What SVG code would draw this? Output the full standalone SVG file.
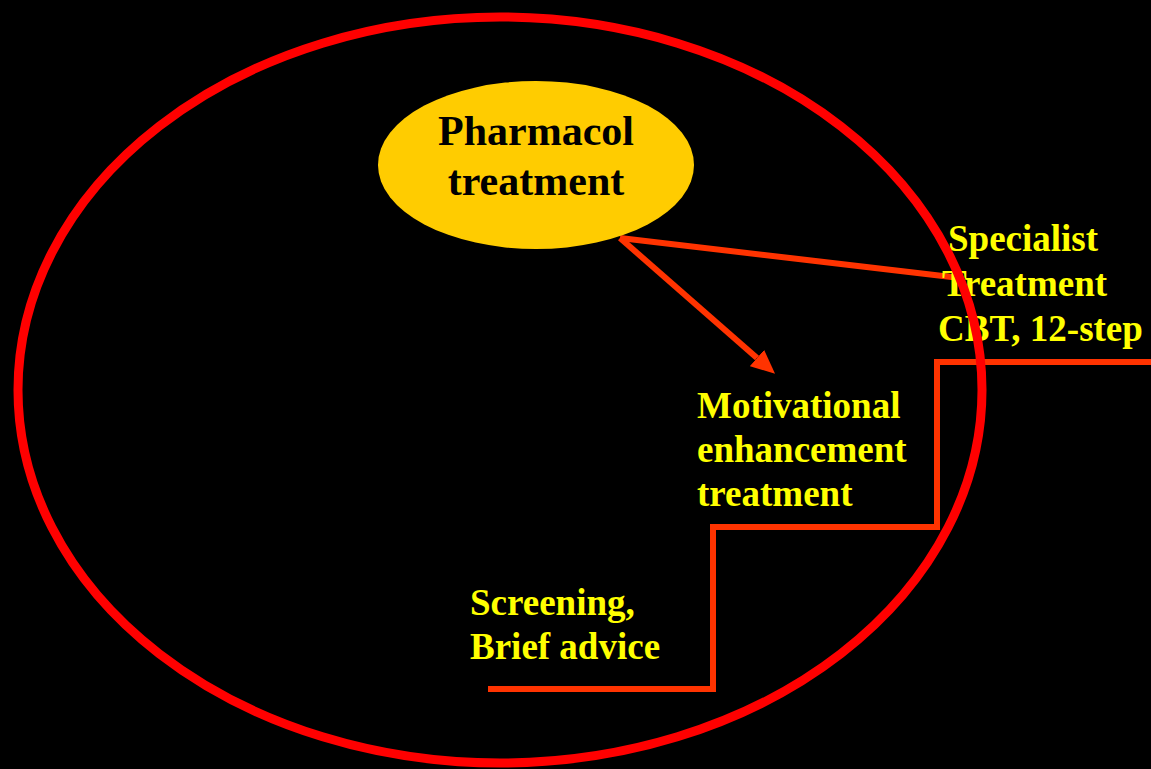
<svg xmlns="http://www.w3.org/2000/svg" width="1151" height="769" viewBox="0 0 1151 769">
<defs>
<style>
.lbl{font-family:"Liberation Serif","Times New Roman",serif;font-weight:bold;font-size:37px;fill:#ffff00}
.ctr{font-family:"Liberation Serif","Times New Roman",serif;font-weight:bold;font-size:42px;fill:#000000;text-anchor:middle}
.conn{fill:none;stroke:#ff3300;stroke-width:6}
</style>
<marker id="ah" markerWidth="4" markerHeight="3.6" refX="0" refY="1.8" orient="auto" markerUnits="strokeWidth">
<path d="M0,0 L4,1.8 L0,3.6 Z" fill="#ff3300"/>
</marker>
</defs>
<rect width="1151" height="769" fill="#000000"/>
<g id="connectors">
<line class="conn" x1="620" y1="238" x2="960" y2="278"/>
<line class="conn" x1="620" y1="238" x2="757" y2="358" marker-end="url(#ah)"/>
<polyline class="conn" stroke-width="7" points="488,689 713,689 713,527 937,527 937,362 1151,362"/>
</g>
<g id="pharmacol">
<ellipse cx="536" cy="165" rx="158" ry="84" fill="#ffcc00"/>
<text class="ctr" x="536" y="145">Pharmacol</text>
<text class="ctr" x="536" y="195">treatment</text>
</g>
<g id="specialist">
<text class="lbl" x="948" y="251">Specialist</text>
<text class="lbl" x="942" y="296">Treatment</text>
<text class="lbl" x="938" y="341">CBT, 12-step</text>
</g>
<g id="motivational">
<text class="lbl" x="697" y="418">Motivational</text>
<text class="lbl" x="697" y="462">enhancement</text>
<text class="lbl" x="697" y="506">treatment</text>
</g>
<g id="screening">
<text class="lbl" x="470" y="615">Screening,</text>
<text class="lbl" x="470" y="659">Brief advice</text>
</g>
<g id="outer-ellipse">
<ellipse cx="500" cy="390" rx="482" ry="373" fill="none" stroke="#ff0000" stroke-width="9"/>
</g>
</svg>
